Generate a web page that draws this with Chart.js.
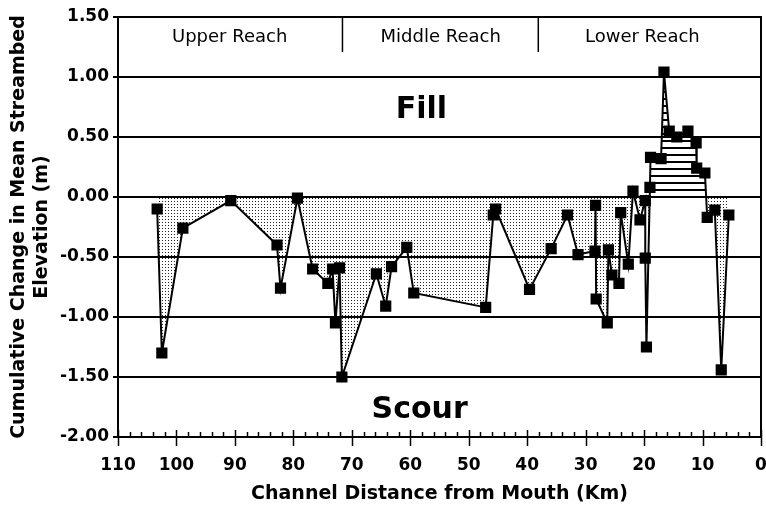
<!DOCTYPE html>
<html>
<head>
<meta charset="utf-8">
<script src="https://cdn.jsdelivr.net/npm/chart.js@4.4.1/dist/chart.umd.min.js"></script>
<style>
  html, body { margin: 0; padding: 0; background: #fff; overflow: hidden; }
  #wrap { width: 766px; height: 507px; }
</style>
</head>
<body>
<div id="wrap"><canvas id="elevChart"></canvas></div>
<script>
// channel distance from mouth (km)
const distanceKm = [
  103.3, 102.5, 98.9, 90.7, 82.8, 82.2, 79.3, 76.7, 74.1, 73.3,
  72.8, 72.1, 71.7, 65.8, 64.2, 63.2, 60.6, 59.4, 47.1, 45.8,
  45.4, 39.6, 35.9, 33.1, 31.3, 28.4, 28.3, 28.2, 26.3, 26.1,
  25.5, 24.3, 24.0, 22.7, 21.9, 20.7, 19.8, 19.8, 19.6, 19.0,
  18.9, 17.1, 16.6, 15.7, 14.4, 12.5, 11.1, 11.0, 9.6, 9.2,
  7.9, 6.8, 5.5
];
// cumulative change in mean streambed elevation (m)
const elevationChange = [
  -0.10, -1.30, -0.26, -0.03, -0.40, -0.76, -0.01, -0.60, -0.72, -0.60,
  -1.05, -0.59, -1.50, -0.64, -0.91, -0.58, -0.42, -0.80, -0.92, -0.15,
  -0.10, -0.77, -0.43, -0.15, -0.48, -0.45, -0.07, -0.85, -1.05, -0.44,
  -0.65, -0.72, -0.13, -0.56, 0.05, -0.19, -0.03, -0.51, -1.25, 0.08,
  0.33, 0.32, 1.04, 0.55, 0.50, 0.55, 0.45, 0.24, 0.20, -0.17,
  -0.11, -1.44, -0.15
];
const xTicks = [110, 100, 90, 80, 70, 60, 50, 40, 30, 20, 10, 0];
const yTicks = [1.5, 1.0, 0.5, 0.0, -0.5, -1.0, -1.5, -2.0];
const reachNames = ['Upper Reach', 'Middle Reach', 'Lower Reach'];
const reachCentersKm = [90.9, 54.8, 20.3];
const reachBoundsKm = [71.6, 38.1];

const points = distanceKm.map((d, i) => ({ x: d, y: elevationChange[i] }));
const FONT = '"DejaVu Sans", Verdana, sans-serif';

function dotPattern() {
  const c = document.createElement('canvas');
  c.width = 3; c.height = 3;
  const g = c.getContext('2d');
  g.fillStyle = '#222';
  g.fillRect(0, 0, 1, 1);
  return g.createPattern(c, 'repeat');
}
function hatchPattern() {
  const c = document.createElement('canvas');
  c.width = 4; c.height = 7;
  const g = c.getContext('2d');
  g.fillStyle = '#000';
  g.fillRect(0, 0, 4, 2);
  return g.createPattern(c, 'repeat');
}

const decor = {
  id: 'decor',
  afterDraw(chart) {
    const { ctx, chartArea: a, scales: { x, y } } = chart;
    ctx.save();
    ctx.strokeStyle = '#000';
    ctx.lineWidth = 2;
    ctx.strokeRect(a.left, a.top, a.right - a.left, a.bottom - a.top);

    // x axis ticks: minor every 2 km, major every 10 km
    ctx.lineWidth = 1.5;
    for (let k = 0; k <= 110; k += 2) {
      const px = Math.round(x.getPixelForValue(k)) + 0.5;
      ctx.beginPath();
      if (k % 10 === 0) {
        ctx.moveTo(px, a.bottom - 7);
        ctx.lineTo(px, a.bottom + 9);
      } else {
        ctx.moveTo(px, a.bottom - 5);
        ctx.lineTo(px, a.bottom);
      }
      ctx.stroke();
    }

    ctx.fillStyle = '#000';
    ctx.textAlign = 'center';
    ctx.textBaseline = 'middle';
    // x tick labels (drawn here so the "0" label does not shrink the plot)
    ctx.font = 'bold 17px ' + FONT;
    xTicks.forEach(v => {
      ctx.fillText(String(v), x.getPixelForValue(v), a.bottom + 29);
    });

    // reach dividers and labels
    reachBoundsKm.forEach(k => {
      const px = x.getPixelForValue(k);
      ctx.beginPath();
      ctx.moveTo(px, a.top);
      ctx.lineTo(px, a.top + 35);
      ctx.stroke();
    });
    ctx.font = '18px ' + FONT;
    reachNames.forEach((n, i) => {
      ctx.fillText(n, x.getPixelForValue(reachCentersKm[i]), a.top + 20);
    });

    ctx.font = 'bold 30px ' + FONT;
    ctx.fillText('Fill', x.getPixelForValue(58.1), y.getPixelForValue(0.72));
    ctx.fillText('Scour', x.getPixelForValue(58.4), y.getPixelForValue(-1.78));
    ctx.restore();
  }
};

const tickFont = { family: FONT, size: 17, weight: 'bold' };
const titleFont = { family: FONT, size: 19, weight: 'bold' };

new Chart(document.getElementById('elevChart'), {
  type: 'line',
  data: {
    datasets: [{
      data: points,
      borderColor: '#000',
      borderWidth: 2,
      tension: 0,
      pointStyle: 'rect',
      pointRadius: 6.5,
      pointBackgroundColor: '#000',
      pointBorderColor: '#000',
      fill: { target: 'origin', above: hatchPattern(), below: dotPattern() }
    }]
  },
  options: {
    responsive: true,
    maintainAspectRatio: false,
    animation: false,
    devicePixelRatio: 1,
    layout: { autoPadding: false, padding: { top: 17, right: 5, left: 0, bottom: 0 } },
    plugins: { legend: { display: false }, tooltip: { enabled: false } },
    scales: {
      x: {
        type: 'linear',
        reverse: true,
        min: 0,
        max: 110,
        afterFit(s) { s.height = 70; },
        afterBuildTicks(s) { s.ticks = xTicks.map(v => ({ value: v })); },
        grid: { display: false },
        border: { display: false },
        ticks: { display: false },
        title: {
          display: true,
          text: 'Channel Distance from Mouth (Km)',
          color: '#000',
          font: titleFont,
          padding: { top: 0, bottom: 2 }
        }
      },
      y: {
        min: -2,
        max: 1.5,
        afterFit(s) { s.width = 118; },
        afterBuildTicks(s) { s.ticks = yTicks.map(v => ({ value: v })); },
        grid: { color: '#000', lineWidth: 2, tickLength: 5 },
        border: { display: false },
        ticks: {
          color: '#000',
          font: tickFont,
          padding: 4,
          callback: v => v.toFixed(2)
        },
        title: {
          display: true,
          text: ['Cumulative Change in Mean Streambed', 'Elevation (m)'],
          color: '#000',
          font: titleFont,
          padding: { top: 8, bottom: 0 }
        }
      }
    }
  },
  plugins: [decor]
});
</script>
</body>
</html>
